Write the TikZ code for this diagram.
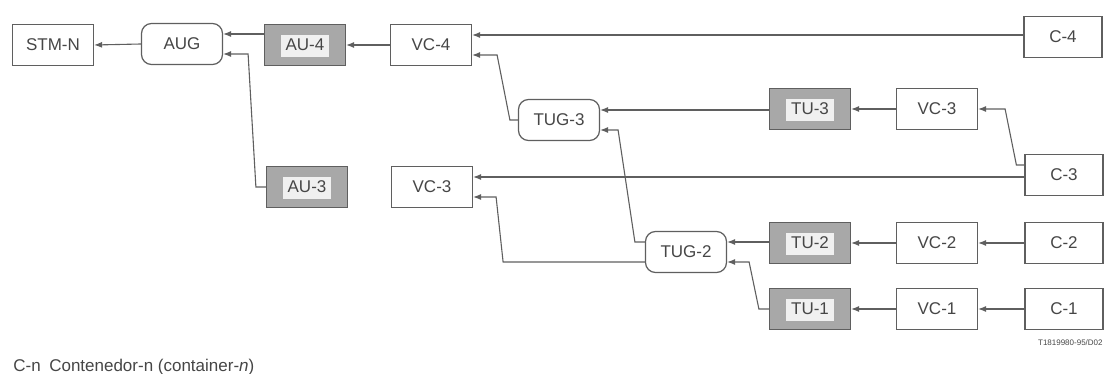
\documentclass[tikz,border=0pt]{standalone}
\usepackage{fontspec}
\setmainfont{Liberation Sans}
\usetikzlibrary{arrows.meta,calc}
\definecolor{sdhline}{RGB}{95,95,95}
\definecolor{sdhshade}{RGB}{168,168,168}
\definecolor{sdhtext}{RGB}{70,70,70}

\begin{document}
\begin{tikzpicture}[x=0.5pt,y=-0.5pt,
  blk/.style={draw=sdhline,line width=0.6pt,fill=white,text=sdhtext,
    font=\fontsize{8.5}{10}\selectfont,
    minimum width=40.5pt,minimum height=20.5pt,inner sep=0pt},
  unit/.style={blk,fill=sdhshade,
    path picture={\fill[gray!12] ([shift={(-12pt,-6pt)}]path picture bounding box.center) rectangle ++(24pt,11pt);}},
  grp/.style={blk,rounded corners=5pt},
  link/.style={draw=sdhline,line width=0.55pt,-{Latex[length=4pt,width=3pt]}}
]
  \useasboundingbox (0,0) rectangle (1104,374);
  % top row (VC-4 path)
  \node[blk] (stmn) at (53,45) {STM-N};
  \node[grp] (aug) at (182,44) {AUG};
  \node[unit] (aufour) at (305,45) {AU-4};
  \node[blk] (vcfour) at (431,45) {VC-4};
  \node[blk,minimum width=39pt] (cfour) at (1063,37) {C-4};
  % TUG-3 branch
  \node[grp] (tugthree) at (559,120) {TUG-3};
  \node[unit] (tuthree) at (810,109) {TU-3};
  \node[blk] (vcthreea) at (937,109) {VC-3};
  \node[blk,minimum width=39pt] (cthree) at (1064,175) {C-3};
  % AU-3 branch
  \node[unit] (authree) at (307,187) {AU-3};
  \node[blk] (vcthreeb) at (432,187) {VC-3};
  % TUG-2 branch
  \node[grp] (tugtwo) at (686,252) {TUG-2};
  \node[unit] (tutwo) at (810,243) {TU-2};
  \node[blk] (vctwo) at (937,243) {VC-2};
  \node[blk,minimum width=39pt] (ctwo) at (1064,243) {C-2};
  \node[unit] (tuone) at (810,309) {TU-1};
  \node[blk] (vcone) at (937,309) {VC-1};
  \node[blk,minimum width=39pt] (cone) at (1064,309) {C-1};

  % input / output points
  \coordinate (aug-in1) at ([yshift=5pt]aug.east);
  \coordinate (aug-in2) at ([yshift=-5pt]aug.east);
  \coordinate (vcfour-in1) at ([yshift=5pt]vcfour.east);
  \coordinate (vcfour-in2) at ([yshift=-5pt]vcfour.east);
  \coordinate (tugthree-in1) at ([yshift=5pt]tugthree.east);
  \coordinate (tugthree-in2) at ([yshift=-5pt]tugthree.east);
  \coordinate (vcthreeb-in1) at ([yshift=5pt]vcthreeb.east);
  \coordinate (vcthreeb-in2) at ([yshift=-5pt]vcthreeb.east);
  \coordinate (tugtwo-in1) at ([yshift=5pt]tugtwo.east);
  \coordinate (tugtwo-in2) at ([yshift=-5pt]tugtwo.east);
  \coordinate (tugtwo-out1) at ([yshift=5pt]tugtwo.west);
  \coordinate (tugtwo-out2) at ([yshift=-5pt]tugtwo.west);
  \coordinate (cthree-out1) at ([yshift=5pt]cthree.west);
  \coordinate (vcthreeb-bend) at ($(vcthreeb-in2)+(30,0)$);

  % connectors
  \draw[link] (aug.west) -- (stmn.east);
  \draw[link] (aufour.west |- aug-in1) -- (aug-in1);
  \draw[link] (authree.west) -- ++(-10,0) -- ($(aug-in2)+(25,0)$) -- (aug-in2);
  \draw[link] (vcfour.west) -- (aufour.east);
  \draw[link] (cfour.west |- vcfour-in1) -- (vcfour-in1);
  \draw[link] (tugthree.west) -- ++(-8,0) -- ($(vcfour-in2)+(25,0)$) -- (vcfour-in2);
  \draw[link] (tuthree.west |- tugthree-in1) -- (tugthree-in1);
  \draw[link] (tugtwo-out1) -- ++(-10,0) -- ($(tugthree-in2)+(18,0)$) -- (tugthree-in2);
  \draw[link] (vcthreea.west) -- (tuthree.east);
  \draw[link] (cthree-out1) -- ++(-8,0) -- ($(vcthreea.east)+(27,0)$) -- (vcthreea.east);
  \draw[link] (cthree.west |- vcthreeb-in1) -- (vcthreeb-in1);
  \draw[link] (tugtwo-out2) -- (vcthreeb-bend |- tugtwo-out2) -- ($(vcthreeb-in2)+(23,0)$) -- (vcthreeb-in2);
  \draw[link] (tutwo.west |- tugtwo-in1) -- (tugtwo-in1);
  \draw[link] (tuone.west) -- ++(-10,0) -- ($(tugtwo-in2)+(22,0)$) -- (tugtwo-in2);
  \draw[link] (vctwo.west) -- (tutwo.east);
  \draw[link] (ctwo.west) -- (vctwo.east);
  \draw[link] (vcone.west) -- (tuone.east);
  \draw[link] (cone.west) -- (vcone.east);

  % legend and figure number
  \node[anchor=west,text=sdhtext,font=\fontsize{8.5}{10}\selectfont,inner sep=0pt] (legend) at (13,367) {C-n\enspace Contenedor-n (container-\textit{n})};
  \node[anchor=east,text=sdhtext,font=\fontsize{4}{5}\selectfont,inner sep=0pt] (figref) at (1103,343) {T1819980-95/D02};
\end{tikzpicture}
\end{document}
